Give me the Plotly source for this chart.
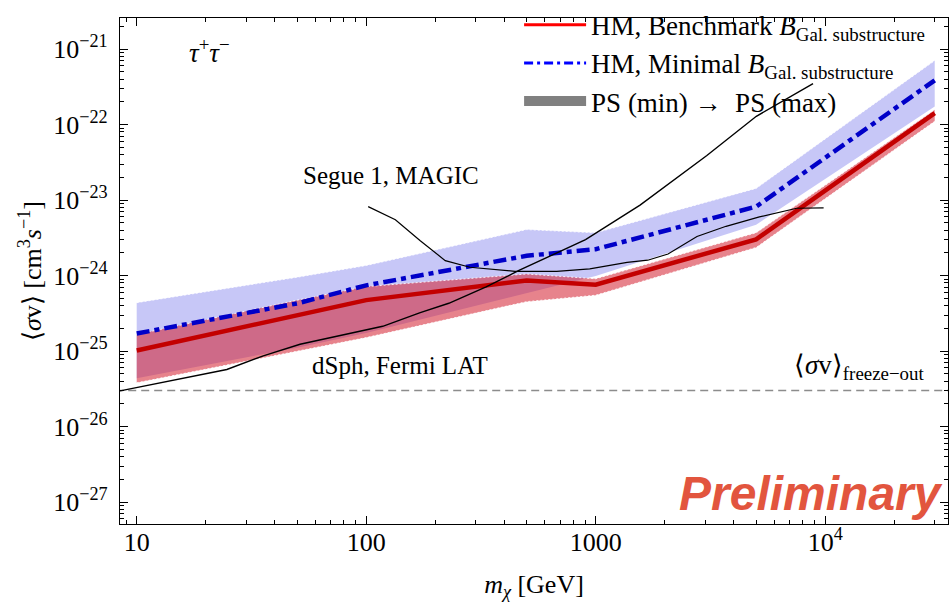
import plotly.graph_objects as go

# ---------------- data ----------------
m_hm = [10, 50, 100, 500, 1000, 5000, 30000]

bench_line = [1.02e-25, 3.02e-25, 4.73e-25, 8.63e-25, 7.58e-25, 3.02e-24, 1.42e-22]
bench_top = [1.66e-25, 4.73e-25, 7.15e-25, 1.05e-24, 9.08e-25, 3.69e-24, 1.57e-22]
bench_bot = [3.8e-26, 9.9e-26, 1.51e-25, 4.52e-25, 5.5e-25, 2.36e-24, 1.11e-22]

minimal_line = [1.71e-25, 4.28e-25, 7.43e-25, 1.83e-24, 2.24e-24, 8.2e-24, 3.87e-22]
minimal_top = [4.38e-25, 9.5e-25, 1.36e-24, 4.07e-24, 3.69e-24, 1.43e-23, 7.06e-22]
minimal_bot = [4.38e-26, 1.11e-25, 1.74e-25, 5.8e-25, 9.9e-25, 4.73e-24, 1.74e-22]

fermi_m = [8.46, 24.7, 35.6, 51.5, 118, 172, 229, 333, 463, 903, 1560, 3050, 5010, 8850]
fermi_sv = [2.97e-26, 5.7e-26, 8.65e-26, 1.23e-25, 2.13e-25, 3.24e-25, 4.3e-25, 7.1e-25,
            1.17e-24, 3.0e-24, 8.6e-24, 3.9e-23, 1.29e-22, 3.5e-22]

magic_m = [102, 134, 172, 221, 283, 445, 676, 942, 1370, 1685, 2066, 2762, 3698, 5167, 7510, 9840]
magic_sv = [8.2e-24, 5.5e-24, 2.9e-24, 1.58e-24, 1.29e-24, 1.14e-24, 1.14e-24, 1.23e-24,
            1.5e-24, 1.6e-24, 1.93e-24, 3.3e-24, 4.5e-24, 6.0e-24, 7.8e-24, 7.9e-24]

freeze_sv = 3e-26
freeze_m = [1, 1e6]

x_tickvals = [10, 100, 1000, 10000]
x_ticktext = ["10", "100", "1000", "10<sup>4</sup>"]
y_exps = [-27, -26, -25, -24, -23, -22, -21]
y_tickvals = [10.0 ** e for e in y_exps]
y_ticktext = ["10<sup>\u2212%d</sup>" % (-e) for e in y_exps]

x_minor = [k * 10.0 ** d for d in range(0, 5) for k in range(2, 10)]
y_minor = [k * 10.0 ** d for d in range(-28, -20) for k in range(2, 10)]

SERIF = "Liberation Serif"

fig = go.Figure()

# Minimal band (blue)
fig.add_trace(go.Scatter(x=m_hm, y=minimal_bot, mode="lines", line=dict(width=0),
                         showlegend=False, hoverinfo="skip"))
fig.add_trace(go.Scatter(x=m_hm, y=minimal_top, mode="lines", line=dict(width=0),
                         fill="tonexty", fillcolor="rgba(115,115,235,0.40)",
                         showlegend=False, hoverinfo="skip"))
# Benchmark band (red)
fig.add_trace(go.Scatter(x=m_hm, y=bench_bot, mode="lines", line=dict(width=0),
                         showlegend=False, hoverinfo="skip"))
fig.add_trace(go.Scatter(x=m_hm, y=bench_top, mode="lines", line=dict(width=0),
                         fill="tonexty", fillcolor="rgba(212,30,45,0.55)",
                         showlegend=False, hoverinfo="skip"))
# white dotted band edges
for arr in (bench_bot, bench_top, minimal_top):
    fig.add_trace(go.Scatter(x=m_hm, y=arr, mode="lines",
                             line=dict(color="rgba(255,255,255,0.85)", width=1, dash="2px,2px"),
                             showlegend=False, hoverinfo="skip"))

# freeze-out
fig.add_trace(go.Scatter(x=freeze_m, y=[freeze_sv, freeze_sv], mode="lines",
                         line=dict(color="rgb(140,140,140)", width=1.4, dash="8px,5px"),
                         showlegend=False, hoverinfo="skip"))

# HM lines
fig.add_trace(go.Scatter(x=m_hm, y=bench_line, mode="lines",
                         line=dict(color="rgb(195,0,0)", width=4.5),
                         showlegend=False))
fig.add_trace(go.Scatter(x=m_hm, y=minimal_line, mode="lines",
                         line=dict(color="rgb(0,0,200)", width=4.5, dash="13px,5px,5px,5px"),
                         showlegend=False))

# experimental limits
fig.add_trace(go.Scatter(x=fermi_m, y=fermi_sv, mode="lines",
                         line=dict(color="black", width=1.4), showlegend=False))
fig.add_trace(go.Scatter(x=magic_m, y=magic_sv, mode="lines",
                         line=dict(color="black", width=1.2), showlegend=False))

# legend entries
fig.add_trace(go.Scatter(x=[None], y=[None], mode="lines", line=dict(color="red", width=3),
                         name="HM, Benchmark <i>B</i><sub>Gal. substructure</sub>",
                         legendgroup="a"))
fig.add_trace(go.Scatter(x=[None], y=[None], mode="lines",
                         line=dict(color="rgb(0,0,255)", width=3, dash="9px,4px,3px,4px"),
                         name="HM, Minimal <i>B</i><sub>Gal. substructure</sub>",
                         legendgroup="b"))
fig.add_trace(go.Scatter(x=[None], y=[None], mode="lines",
                         line=dict(color="rgb(128,128,128)", width=24),
                         name="PS (min) \u2192  PS (max)", legendgroup="c"))

axis_common = dict(
    type="log", showgrid=False, zeroline=False, showline=True, linecolor="black",
    linewidth=1.2, mirror="allticks", ticks="inside", ticklen=8, tickwidth=1,
    tickcolor="black", tickmode="array",
    tickfont=dict(family=SERIF, size=26, color="black"),
)

fig.update_xaxes(**axis_common, range=[0.9272, 4.535], tickvals=x_tickvals, ticktext=x_ticktext,
                 minor=dict(tickmode="array", tickvals=x_minor, ticks="inside", ticklen=4,
                            tickcolor="black"),
                 ticklabelstandoff=-5,
                 title=dict(text="<i>m</i><sub><i>\u03c7</i></sub> [GeV]",
                            font=dict(family=SERIF, size=26, color="black"), standoff=22))
fig.update_yaxes(**axis_common, range=[-27.291, -20.587], tickvals=y_tickvals, ticktext=y_ticktext,
                 minor=dict(tickmode="array", tickvals=y_minor, ticks="inside", ticklen=4,
                            tickcolor="black"),
                 ticklabelstandoff=6,
                 title=dict(text="\u27e8<i>\u03c3</i>v\u27e9 [cm<sup>3</sup><i>s</i><sup>\u22121</sup>]",
                            font=dict(family=SERIF, size=26, color="black"), standoff=4))

def ann(text, x, y, size=25, **kw):
    fig.add_annotation(text=text, x=x, y=y, xref="paper", yref="paper", showarrow=False,
                       xanchor="center", yanchor="middle",
                       font=dict(family=kw.pop("family", SERIF), size=size,
                                 color=kw.pop("color", "black")), **kw)

ann("<i>\u03c4</i><sup>+</sup><i>\u03c4</i><sup>\u2212</sup>", 0.1075, 0.935, size=27)
ann("Segue 1, MAGIC", 0.327, 0.689, size=25)
ann("dSph, Fermi LAT", 0.338, 0.313, size=25)
ann("\u27e8<i>\u03c3</i>v\u27e9<sub>freeze\u2212out</sub>", 0.893, 0.31, size=27)
ann("<b><i>Preliminary</i></b>", 0.8345, 0.0603, size=48, family="Liberation Sans",
    color="rgb(226,85,62)")

fig.update_layout(
    width=949, height=602,
    margin=dict(l=120, r=1, t=10, b=78),
    paper_bgcolor="white", plot_bgcolor="white",
    showlegend=True,
    legend=dict(x=0.482, y=1.034, xanchor="left", yanchor="top", bgcolor="rgba(0,0,0,0)",
                font=dict(family=SERIF, size=27, color="black"), itemwidth=62,
                tracegroupgap=0, traceorder="grouped"),
)

fig.write_html("out.html")
